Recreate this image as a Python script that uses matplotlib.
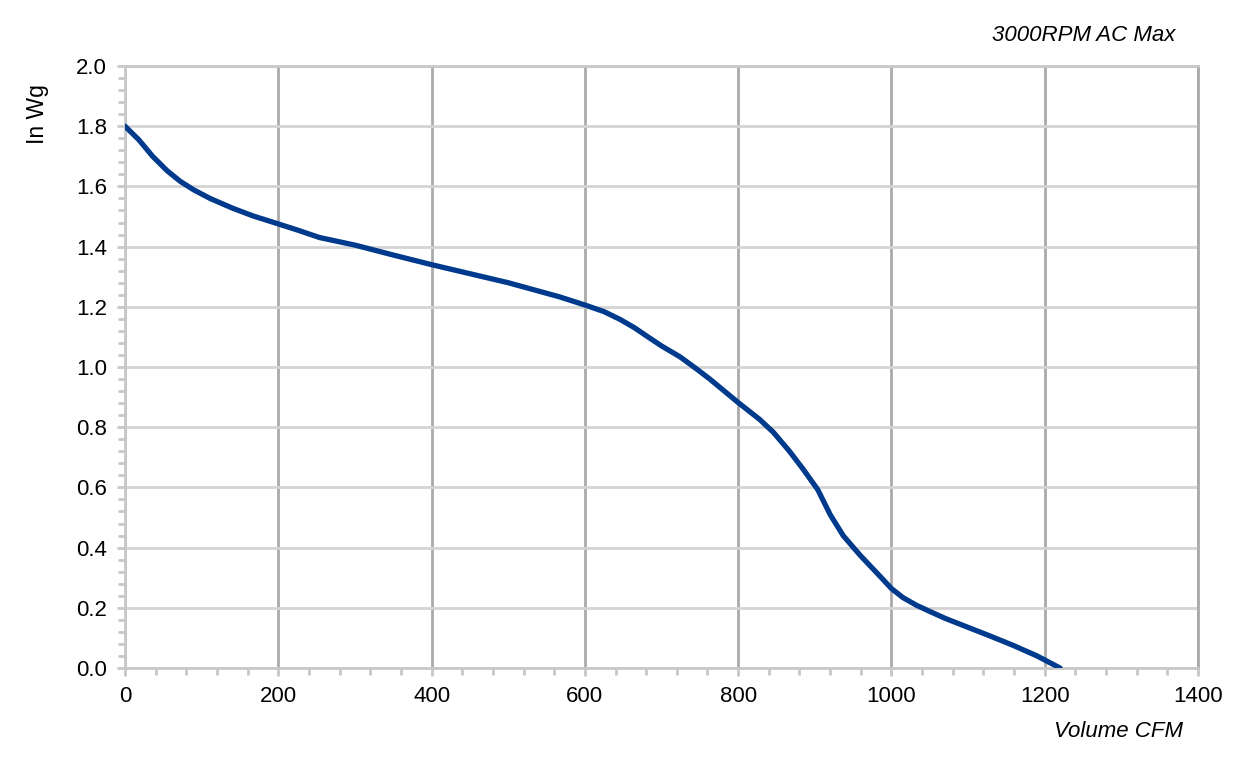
import matplotlib
matplotlib.use('Agg')
import matplotlib.pyplot as plt
from matplotlib.ticker import MultipleLocator

plt.rcParams['font.family'] = ['Liberation Sans', 'DejaVu Sans']

# fan curve
volume_cfm = [0, 18, 36, 55, 72, 90, 111, 140, 167, 198, 225, 254, 300, 350, 400,
              450, 500, 567, 600, 625, 646, 665, 680, 700, 724, 745, 763, 800, 828,
              846, 867, 885, 904, 920, 937, 959, 985, 1000, 1015, 1033, 1050, 1070,
              1100, 1130, 1159, 1190, 1220]
pressure_inwg = [1.80, 1.755, 1.70, 1.652, 1.617, 1.588, 1.56, 1.528, 1.502, 1.477,
                 1.455, 1.43, 1.405, 1.372, 1.34, 1.31, 1.28, 1.233, 1.206, 1.184,
                 1.158, 1.13, 1.104, 1.07, 1.034, 0.995, 0.96, 0.882, 0.826, 0.783,
                 0.72, 0.66, 0.592, 0.51, 0.44, 0.375, 0.305, 0.264, 0.234, 0.208,
                 0.188, 0.165, 0.135, 0.105, 0.075, 0.04, 0.0]

fig = plt.figure(figsize=(12.41, 7.65), dpi=100)
ax = fig.add_axes([125 / 1241, 1 - 668 / 765, (1198 - 125) / 1241, (668 - 66) / 765])

ax.plot(volume_cfm, pressure_inwg, color='#003a8c', lw=3.8,
        solid_capstyle='round', solid_joinstyle='round', zorder=3)

ax.set_xlim(0, 1400)
ax.set_ylim(0, 2.0)
ax.xaxis.set_major_locator(MultipleLocator(200))
ax.xaxis.set_minor_locator(MultipleLocator(40))
ax.yaxis.set_major_locator(MultipleLocator(0.2))
ax.yaxis.set_minor_locator(MultipleLocator(0.04))
ax.yaxis.set_major_formatter(plt.FormatStrFormatter('%.1f'))

ax.grid(axis='x', which='major', color='#aaaaaa', lw=2)
ax.grid(axis='y', which='major', color='#d4d4d4', lw=2)
ax.set_axisbelow(True)

for s in ['left', 'bottom', 'top']:
    ax.spines[s].set_color('#c8c8c8')
    ax.spines[s].set_linewidth(2)
ax.spines['right'].set_color('#aaaaaa')
ax.spines['right'].set_linewidth(2)

ax.tick_params(which='major', length=6, width=2, color='#c8c8c8',
               labelsize=16, pad=7)
ax.tick_params(which='minor', length=5, width=2, color='#c8c8c8')

ax.set_ylabel('In Wg', fontsize=16.5)
ax.yaxis.set_label_coords(-0.071, 0.92)
ax.text(1.0 - 15 / 1073, -0.088, 'Volume CFM', transform=ax.transAxes, ha='right',
        va='top', fontsize=16, style='italic')
ax.text(1.0 - 23 / 1073, 1.033, '3000RPM AC Max', transform=ax.transAxes, ha='right',
        va='bottom', fontsize=16, style='italic')

plt.savefig('out.png', dpi=100)
plt.close()
